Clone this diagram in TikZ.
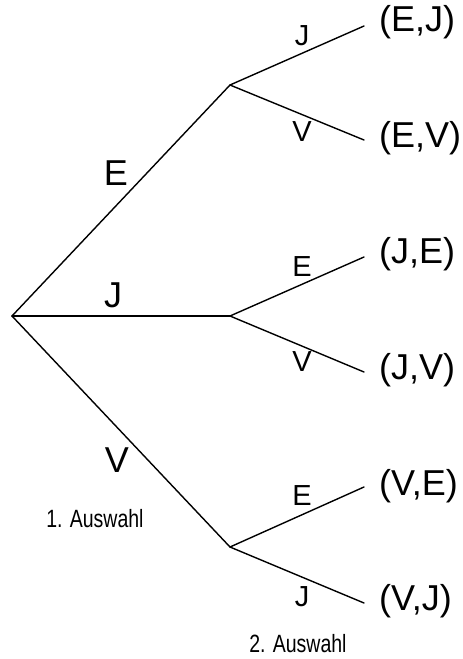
\documentclass[tikz,border=0pt]{standalone}
\usepackage{fontspec}
\usepackage{graphicx}
\setmainfont{Liberation Sans}
\begin{document}
\begin{tikzpicture}[x=1pt,y=-1pt,
  edge/.style={line width=1.4pt,line cap=round},
  leaf/.style={anchor=west,inner sep=0pt,font=\fontsize{36}{36}\selectfont},
  biglab/.style={inner sep=0pt,font=\fontsize{36}{36}\selectfont},
  smalllab/.style={inner sep=0pt,font=\fontsize{29}{29}\selectfont},
  caption/.style={inner sep=0pt,font=\fontsize{25}{25}\selectfont}]
\useasboundingbox (0,0) rectangle (463,659);
\coordinate (R) at (12,316);
\coordinate (A) at (230,85);
\coordinate (B) at (230,316);
\coordinate (C) at (230,547);
\coordinate (EJ) at (364,26);
\coordinate (EV) at (364,140);
\coordinate (JE) at (364,257);
\coordinate (JV) at (364,372);
\coordinate (VE) at (364,487);
\coordinate (VJ) at (364,603);
\draw[edge] (R) -- (A);
\draw[edge] (R) -- (B);
\draw[edge] (R) -- (C);
\draw[edge] (A) -- (EJ);
\draw[edge] (A) -- (EV);
\draw[edge] (B) -- (JE);
\draw[edge] (B) -- (JV);
\draw[edge] (C) -- (VE);
\draw[edge] (C) -- (VJ);
\node[leaf] (tEJ) at (379,22) {(E,J)};
\node[leaf] (tEV) at (379,138) {(E,V)};
\node[leaf] (tJE) at (379,254) {(J,E)};
\node[leaf] (tJV) at (379,370) {(J,V)};
\node[leaf] (tVE) at (379,486) {(V,E)};
\node[leaf] (tVJ) at (379,601) {(V,J)};
\node[biglab] (lE) at (116,173) {E};
\node[biglab] (lJ) at (113,295) {J};
\node[biglab] (lV) at (117,460) {V};
\node[smalllab] (sEJ) at (302,36) {J};
\node[smalllab] (sEV) at (302,132) {V};
\node[smalllab] (sJE) at (302,267) {E};
\node[smalllab] (sJV) at (302,362) {V};
\node[smalllab] (sVE) at (302,496) {E};
\node[smalllab] (sVJ) at (302,597) {J};
\node[caption] (c1) at (95,519) {\scalebox{0.78}[1]{1. Auswahl}};
\node[caption] (c2) at (298,644) {\scalebox{0.78}[1]{2. Auswahl}};
\end{tikzpicture}
\end{document}
